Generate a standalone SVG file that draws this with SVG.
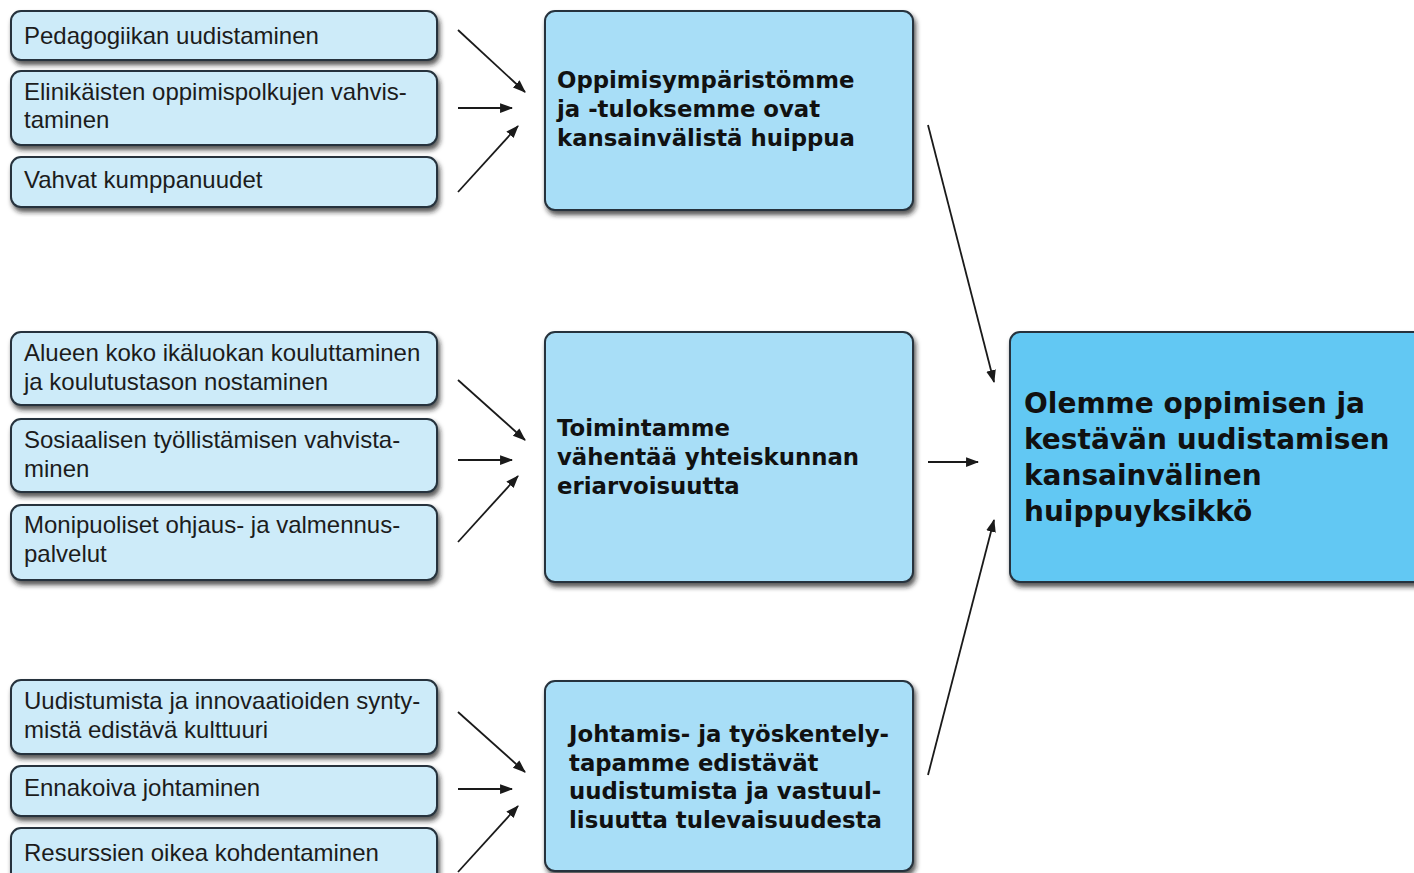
<svg xmlns="http://www.w3.org/2000/svg" width="1414" height="873" viewBox="0 0 1414 873">
<defs>
<filter id="sh" x="-10%" y="-10%" width="125%" height="130%">
<feDropShadow dx="2" dy="4" stdDeviation="2.5" flood-color="#1a1a1a" flood-opacity="0.75"/>
</filter>
<marker id="ah" viewBox="0 0 12 12" refX="11" refY="6" markerWidth="13" markerHeight="13" markerUnits="userSpaceOnUse" orient="auto">
<path d="M0,1.5 L12,6 L0,10.5 Z" fill="#1a1a1a"/>
</marker>
<style>
.sm{fill:#cdebf9;stroke:#26333d;stroke-width:2;filter:url(#sh)}
.md{fill:#a8def7;stroke:#26333d;stroke-width:2;filter:url(#sh)}
.bg{fill:#62c8f3;stroke:#26333d;stroke-width:2;filter:url(#sh)}
.t{font-family:"Liberation Sans",Arial,sans-serif;font-size:24px;fill:#1c1c1c}
.b{font-family:"DejaVu Sans",sans-serif;font-weight:bold;font-size:22.8px;fill:#111}
.h{font-family:"DejaVu Sans",sans-serif;font-weight:bold;font-size:28px;fill:#111}
.c{stroke:#1a1a1a;stroke-width:1.8;fill:none;marker-end:url(#ah)}
</style>
</defs>
<rect width="1414" height="873" fill="#fff"/>

<g id="n1"><rect class="sm" x="11" y="11" width="426" height="49" rx="10"/><text class="t" x="24" y="44">Pedagogiikan uudistaminen</text></g>
<g id="n2"><rect class="sm" x="11" y="71" width="426" height="74" rx="10"/><text class="t" x="24" y="100">Elinikäisten oppimispolkujen vahvis-</text><text class="t" x="24" y="128">taminen</text></g>
<g id="n3"><rect class="sm" x="11" y="157" width="426" height="50" rx="10"/><text class="t" x="24" y="188">Vahvat kumppanuudet</text></g>

<g id="n4"><rect class="sm" x="11" y="332" width="426" height="73" rx="10"/><text class="t" x="24" y="361">Alueen koko ikäluokan kouluttaminen</text><text class="t" x="24" y="390">ja koulutustason nostaminen</text></g>
<g id="n5"><rect class="sm" x="11" y="419" width="426" height="73" rx="10"/><text class="t" x="24" y="448">Sosiaalisen työllistämisen vahvista-</text><text class="t" x="24" y="477">minen</text></g>
<g id="n6"><rect class="sm" x="11" y="505" width="426" height="75" rx="10"/><text class="t" x="24" y="533">Monipuoliset ohjaus- ja valmennus-</text><text class="t" x="24" y="562">palvelut</text></g>

<g id="n7"><rect class="sm" x="11" y="680" width="426" height="74" rx="10"/><text class="t" x="24" y="709">Uudistumista ja innovaatioiden synty-</text><text class="t" x="24" y="738">mistä edistävä kulttuuri</text></g>
<g id="n8"><rect class="sm" x="11" y="766" width="426" height="50" rx="10"/><text class="t" x="24" y="796">Ennakoiva johtaminen</text></g>
<g id="n9"><rect class="sm" x="11" y="828" width="426" height="60" rx="10"/><text class="t" x="24" y="861">Resurssien oikea kohdentaminen</text></g>

<g id="m1"><rect class="md" x="545" y="11" width="368" height="199" rx="10"/><text class="b" x="557" y="88">Oppimisympäristömme</text><text class="b" x="557" y="117">ja -tuloksemme ovat</text><text class="b" x="557" y="146">kansainvälistä huippua</text></g>
<g id="m2"><rect class="md" x="545" y="332" width="368" height="250" rx="10"/><text class="b" x="557" y="436">Toimintamme</text><text class="b" x="557" y="465">vähentää yhteiskunnan</text><text class="b" x="557" y="494">eriarvoisuutta</text></g>
<g id="m3"><rect class="md" x="545" y="681" width="368" height="190" rx="10"/><text class="b" x="569" y="742">Johtamis- ja työskentely-</text><text class="b" x="569" y="771">tapamme edistävät</text><text class="b" x="569" y="799">uudistumista ja vastuul-</text><text class="b" x="569" y="828">lisuutta tulevaisuudesta</text></g>

<g id="r1"><rect class="bg" x="1010" y="332" width="420" height="250" rx="10"/><text class="h" x="1024" y="413">Olemme oppimisen ja</text><text class="h" x="1024" y="449">kestävän uudistamisen</text><text class="h" x="1024" y="485">kansainvälinen</text><text class="h" x="1024" y="521">huippuyksikkö</text></g>

<g id="connectors">
<line class="c" x1="458" y1="30" x2="525" y2="92"/>
<line class="c" x1="458" y1="108" x2="512" y2="108"/>
<line class="c" x1="458" y1="192" x2="518" y2="126"/>
<line class="c" x1="458" y1="380" x2="525" y2="440"/>
<line class="c" x1="458" y1="460" x2="512" y2="460"/>
<line class="c" x1="458" y1="542" x2="518" y2="476"/>
<line class="c" x1="458" y1="712" x2="525" y2="772"/>
<line class="c" x1="458" y1="789" x2="512" y2="789"/>
<line class="c" x1="458" y1="872" x2="518" y2="806"/>
<line class="c" x1="928" y1="125" x2="994" y2="382"/>
<line class="c" x1="928" y1="462" x2="978" y2="462"/>
<line class="c" x1="928" y1="775" x2="994" y2="520"/>
</g>
</svg>
